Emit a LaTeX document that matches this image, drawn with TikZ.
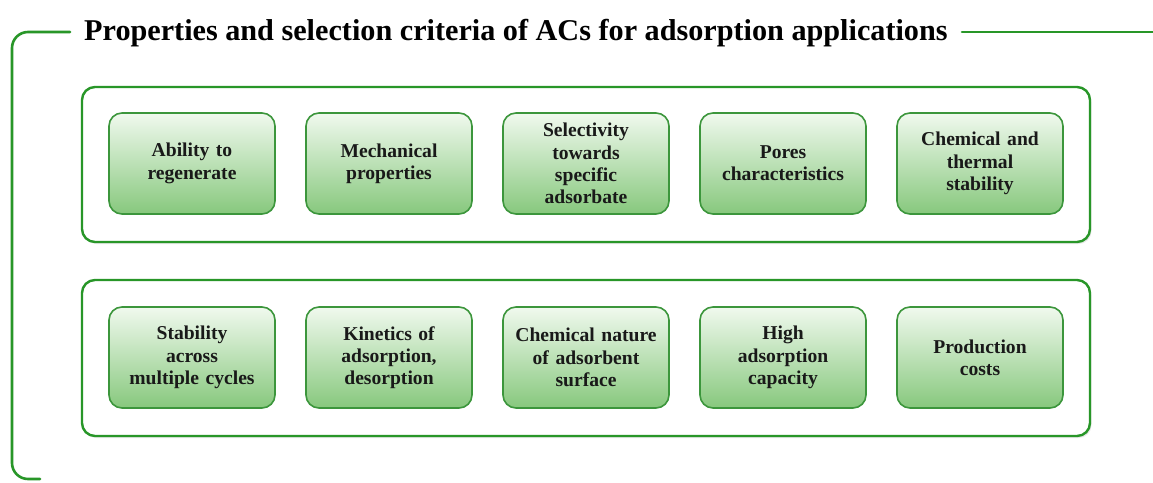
\documentclass[tikz,border=0pt]{standalone}
\usepackage{fontspec}
\setmainfont{Liberation Serif}
\usetikzlibrary{shadows}
\definecolor{framegreen}{RGB}{40,150,40}
\definecolor{boxedge}{RGB}{60,150,60}
\definecolor{boxtop}{RGB}{240,249,238}
\definecolor{boxbot}{RGB}{135,200,125}
\definecolor{txt}{RGB}{25,25,25}
\begin{document}
\begin{tikzpicture}[x=1pt,y=-1pt,
  frame/.style={draw=framegreen,line width=2.6pt,line cap=round},
  panel/.style={draw=framegreen,line width=2.4pt,rounded corners=13pt,fill=white,
     drop shadow={shadow xshift=1.5pt,shadow yshift=-2pt,opacity=0.18}},
  item/.style={draw=boxedge,line width=1.6pt,rounded corners=13pt,
     minimum width=166pt,minimum height=101pt,inner sep=2pt,
     top color=boxtop,bottom color=boxbot,
     text=txt,font=\bfseries\fontsize{19.6}{22.3}\selectfont,align=center,text width=162pt},
  title/.style={font=\bfseries\fontsize{30.2}{34}\selectfont,text=black,inner sep=0pt}
]
\useasboundingbox (0,0) rectangle (1153,482);
\fill[white] (0,0) rectangle (1153,482);

% title and outer frame
\node[title,anchor=base west] (ttl) at (84,40.5) {Properties and selection criteria of ACs for adsorption applications};
\coordinate (fl) at (70,32);
\coordinate (fr) at (962,32);
\coordinate (fe) at (1153,32);
\coordinate (fb) at (40,479);
\draw[frame,rounded corners=16pt] (fl) -- (12,32) -- (12,479) -- (fb);
\draw[frame] (fr) -- (fe);

% panels
\path[panel] (82,87) rectangle (1090,242);
\path[panel] (82,280) rectangle (1090,436);

% row 1
\node[item] (a1) at (192,163.5) {Ability to\\regenerate};
\node[item] (a2) at (389,163.5) {Mechanical\\properties};
\node[item] (a3) at (586,163.5) {Selectivity\\towards\\specific\\adsorbate};
\node[item] (a4) at (783,163.5) {Pores\\characteristics};
\node[item] (a5) at (980,163.5) {Chemical and\\thermal\\stability};

% row 2
\node[item] (b1) at (192,357.5) {Stability\\across\\multiple cycles};
\node[item] (b2) at (389,357.5) {Kinetics of\\adsorption,\\desorption};
\node[item] (b3) at (586,357.5) {Chemical nature\\of adsorbent\\surface};
\node[item] (b4) at (783,357.5) {High\\adsorption\\capacity};
\node[item] (b5) at (980,357.5) {Production\\costs};
\end{tikzpicture}
\end{document}
